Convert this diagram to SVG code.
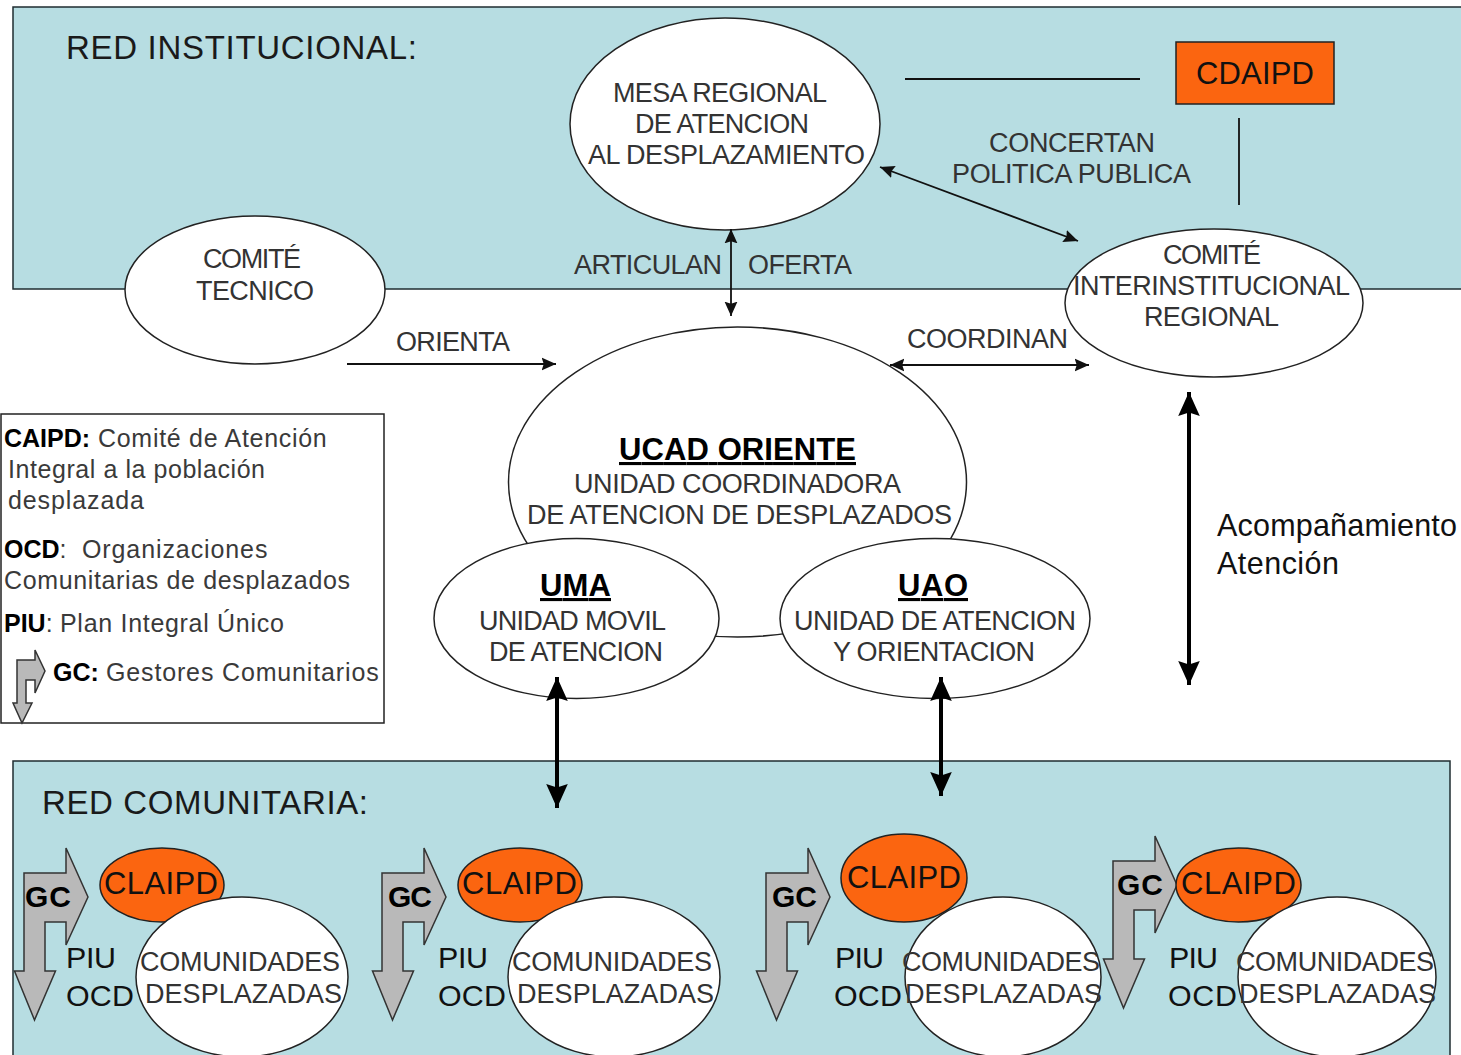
<svg xmlns="http://www.w3.org/2000/svg" width="1461" height="1055" viewBox="0 0 1461 1055">
<style>
text{font-family:"Liberation Sans",Arial,sans-serif;font-size:27px;fill:#333}
.dk{fill:#111}
.m{font-size:31px}
.p{font-size:30.4px}
.u{font-size:31px;font-weight:bold;fill:#000;text-decoration:underline}
.gt{font-size:30px;font-weight:bold;fill:#000}
.b{font-weight:bold;fill:#000}
.t{font-size:33px;fill:#1a1a1a}
.l{font-size:25px;fill:#3a3a3a}
.n{font-size:30.5px;fill:#111}
.panel{fill:#b7dde2;stroke:#1f2d30;stroke-width:1.5}
.e{fill:#fff;stroke:#222;stroke-width:1.5}
.o{fill:#fb6510;stroke:#222;stroke-width:1.5}
.gc{fill:#b9b9b9;stroke:#333;stroke-width:1.5}
.c{fill:none;stroke:#111;stroke-width:1.8}
.k{fill:none;stroke:#000;stroke-width:4}
</style>
<defs>
<marker id="a" viewBox="0 0 10 10" refX="10" refY="5" markerWidth="8" markerHeight="8" orient="auto-start-reverse"><path d="M0,0.5L10,5L0,9.5L1.5,5Z" fill="#111"/></marker>
<marker id="k" viewBox="0 0 10 10" refX="10" refY="5" markerWidth="6" markerHeight="6" orient="auto-start-reverse"><path d="M0,0.5L10,5L0,9.5L1.5,5Z" fill="#000"/></marker>
<path id="gcs" class="gc" d="M24,873H66V848L88,897L66,945V922H45V971H55.5L34.5,1020L14.5,971H24Z"/>
</defs>

<g id="panel-institucional"><rect class="panel" x="13" y="7" width="1452" height="282"/><text class="t" x="66" y="59" textLength="351">RED INSTITUCIONAL:</text></g>
<g id="panel-comunitaria"><rect class="panel" x="13" y="761" width="1437" height="300"/><text class="t" x="42" y="814" textLength="326">RED COMUNITARIA:</text></g>

<g id="mesa"><ellipse class="e" cx="725" cy="124" rx="155" ry="106"/><text x="613" y="102" textLength="214">MESA REGIONAL</text><text x="635" y="133" textLength="174">DE ATENCION</text><text x="588" y="164" textLength="277">AL DESPLAZAMIENTO</text></g>
<g id="cdaipd"><rect class="o" x="1176" y="42" width="158" height="62"/><text class="dk m" x="1196" y="84" textLength="118">CDAIPD</text></g>
<g id="comite-tecnico"><ellipse class="e" cx="255" cy="290" rx="130" ry="74"/><text x="203" y="268" textLength="98">COMITÉ</text><text x="196" y="300" textLength="118">TECNICO</text></g>
<g id="comite-inter"><ellipse class="e" cx="1214" cy="303" rx="149" ry="74"/><text x="1163" y="264" textLength="98">COMITÉ</text><text x="1073" y="295" textLength="277">INTERINSTITUCIONAL</text><text x="1144" y="326" textLength="135">REGIONAL</text></g>
<g id="ucad"><ellipse class="e" cx="737.5" cy="482" rx="229" ry="155"/><text class="u" x="619" y="460" textLength="237">UCAD ORIENTE</text><text x="574" y="493" textLength="327">UNIDAD COORDINADORA</text><text x="527" y="524" textLength="425">DE ATENCION DE DESPLAZADOS</text></g>
<g id="uma"><ellipse class="e" cx="576.5" cy="618.5" rx="142.5" ry="80"/><text class="u" x="540" y="596" textLength="71">UMA</text><text x="479" y="630" textLength="187">UNIDAD MOVIL</text><text x="489" y="661" textLength="174">DE ATENCION</text></g>
<g id="uao"><ellipse class="e" cx="935" cy="618.5" rx="155" ry="80"/><text class="u" x="898" y="596" textLength="70">UAO</text><text x="794" y="630" textLength="282">UNIDAD DE ATENCION</text><text x="833" y="661" textLength="202">Y ORIENTACION</text></g>

<g id="leyenda">
<rect x="1" y="414" width="383" height="309" fill="#fff" stroke="#222" stroke-width="1.5"/>
<text class="l" x="4" y="447"><tspan class="b">CAIPD:</tspan><tspan x="98" letter-spacing=".7">Comité de Atención</tspan></text>
<text class="l" x="8" y="478" textLength="257">Integral a la población</text>
<text class="l" x="8" y="509" textLength="136">desplazada</text>
<text class="l" x="4" y="558"><tspan class="b">OCD</tspan>:<tspan x="82" letter-spacing=".9">Organizaciones</tspan></text>
<text class="l" x="4" y="589" textLength="346">Comunitarias de desplazados</text>
<text class="l" x="4" y="632"><tspan class="b">PIU</tspan>:<tspan x="60" letter-spacing=".7">Plan Integral Único</tspan></text>
<path class="gc" d="M17,660H35V650L45,671L35,693V680H26V703H32L22,723L13,703H17Z"/>
<text class="l" x="53" y="681"><tspan class="b">GC:</tspan><tspan x="106" letter-spacing=".85">Gestores Comunitarios</tspan></text>
</g>

<g id="nota"><text class="n" x="1217" y="536" textLength="240">Acompañamiento</text><text class="n" x="1217" y="574" textLength="122">Atención</text></g>

<g id="grupo-1"><use href="#gcs"/><text class="gt" x="25" y="907" textLength="46">GC</text><ellipse class="o" cx="162" cy="885" rx="62" ry="37"/><text class="dk m" x="104" y="894" textLength="114">CLAIPD</text><text class="dk p" x="66" y="968" textLength="50">PIU</text><text class="dk p" x="66" y="1006" textLength="68">OCD</text><ellipse class="e" cx="242" cy="977" rx="106" ry="80"/><text x="140" y="971" textLength="200">COMUNIDADES</text><text x="145" y="1003" textLength="197">DESPLAZADAS</text></g>
<g id="grupo-2"><use href="#gcs" x="358"/><text class="gt" x="388" y="907" textLength="44">GC</text><ellipse class="o" cx="520" cy="885" rx="62" ry="37"/><text class="dk m" x="462" y="894" textLength="115">CLAIPD</text><text class="dk p" x="438" y="968" textLength="50">PIU</text><text class="dk p" x="438" y="1006" textLength="68">OCD</text><ellipse class="e" cx="614" cy="977" rx="106" ry="80"/><text x="512" y="971" textLength="200">COMUNIDADES</text><text x="517" y="1003" textLength="197">DESPLAZADAS</text></g>
<g id="grupo-3"><use href="#gcs" x="742"/><text class="gt" x="772" y="907" textLength="45">GC</text><ellipse class="o" cx="904" cy="878" rx="63" ry="44"/><text class="dk m" x="847" y="888" textLength="114">CLAIPD</text><text class="dk p" x="835" y="968" textLength="49">PIU</text><text class="dk p" x="834" y="1006" textLength="68">OCD</text><ellipse class="e" cx="1003" cy="977" rx="98" ry="80"/><text x="902" y="971" textLength="198">COMUNIDADES</text><text x="905" y="1003" textLength="197">DESPLAZADAS</text></g>
<g id="grupo-4"><use href="#gcs" x="1089" y="-12"/><text class="gt" x="1117" y="895" textLength="46">GC</text><ellipse class="o" cx="1238.5" cy="885" rx="62.5" ry="37"/><text class="dk m" x="1181" y="894" textLength="115">CLAIPD</text><text class="dk p" x="1169" y="968" textLength="49">PIU</text><text class="dk p" x="1168" y="1006" textLength="69">OCD</text><ellipse class="e" cx="1337" cy="977" rx="99" ry="80"/><text x="1236" y="971" textLength="198">COMUNIDADES</text><text x="1239" y="1003" textLength="197">DESPLAZADAS</text></g>

<g id="etiquetas">
<text x="574" y="274" textLength="148">ARTICULAN</text><text x="748" y="274" textLength="104">OFERTA</text>
<text x="396" y="351" textLength="114">ORIENTA</text><text x="907" y="348" textLength="161">COORDINAN</text>
<text x="989" y="152" textLength="166">CONCERTAN</text><text x="952" y="183" textLength="239">POLITICA PUBLICA</text>
</g>

<g id="conectores">
<path class="c" d="M905,79H1140"/>
<path class="c" d="M1239,118V205"/>
<path class="c" d="M880,167L1078,241" marker-start="url(#a)" marker-end="url(#a)"/>
<path class="c" d="M731,229V316" marker-start="url(#a)" marker-end="url(#a)"/>
<path class="c" d="M347,364H556" marker-end="url(#a)"/>
<path class="c" d="M890,365H1089" marker-start="url(#a)" marker-end="url(#a)"/>
<path class="k" d="M1189,392V685" marker-start="url(#k)" marker-end="url(#k)"/>
<path class="k" d="M557,677V808" marker-start="url(#k)" marker-end="url(#k)"/>
<path class="k" d="M941,677V796" marker-start="url(#k)" marker-end="url(#k)"/>
</g>
</svg>
